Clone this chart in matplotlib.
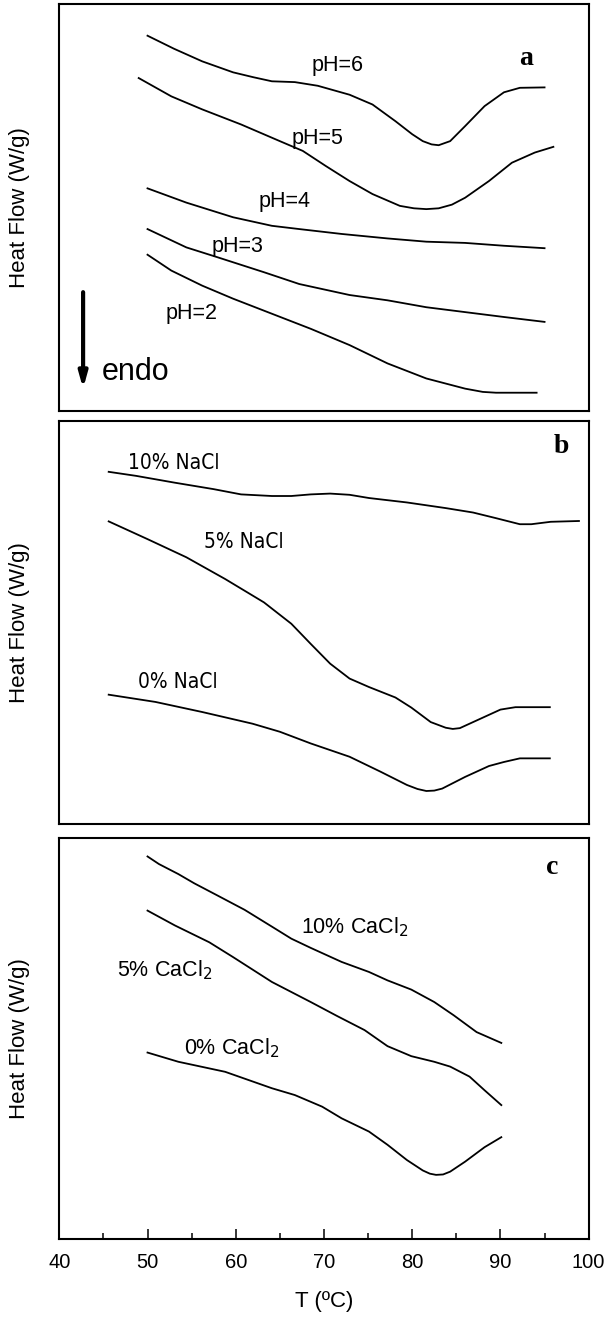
import matplotlib
matplotlib.use("Agg")
import matplotlib.pyplot as plt
from matplotlib.ticker import MultipleLocator
from matplotlib import font_manager as fm

plt.rcParams['font.family'] = ['Liberation Sans', 'DejaVu Sans']

# ---------------- data (T in degC, heat flow in arbitrary units) ----------------
# panel a: pH series
ph6_T = [50.0, 53.0, 56.2, 59.7, 62.0, 64.1, 66.7, 69.3, 72.9, 75.5, 78.1, 80.0, 81.2, 82.2, 83.0, 84.3, 86.0, 88.2, 90.4, 92.2, 95.0]
ph6_H = [92.2, 89.0, 85.9, 83.2, 82.0, 81.0, 80.8, 79.9, 77.7, 75.3, 71.2, 68.0, 66.3, 65.5, 65.3, 66.3, 70.0, 74.9, 78.3, 79.4, 79.5]
ph5_T = [49.0, 52.7, 56.2, 60.6, 65.0, 67.6, 70.2, 72.9, 75.5, 78.6, 80.2, 81.6, 83.0, 84.5, 86.0, 88.7, 91.3, 93.9, 96.0]
ph5_H = [81.8, 77.3, 74.1, 70.4, 66.3, 63.9, 60.2, 56.5, 53.3, 50.4, 49.8, 49.6, 49.8, 50.7, 52.4, 56.5, 61.0, 63.5, 64.9]
ph4_T = [50.0, 54.4, 59.7, 64.1, 67.2, 72.0, 77.2, 81.6, 86.0, 90.4, 95.0]
ph4_H = [54.7, 51.2, 47.6, 45.5, 44.7, 43.5, 42.4, 41.6, 41.3, 40.6, 40.0]
ph3_T = [50.0, 54.4, 57.9, 63.2, 67.2, 72.9, 77.2, 81.6, 86.0, 90.4, 95.0]
ph3_H = [44.7, 40.2, 37.8, 34.1, 31.2, 28.5, 27.2, 25.5, 24.3, 23.1, 21.9]
ph2_T = [50.0, 52.7, 56.2, 59.7, 64.1, 68.5, 72.9, 77.2, 81.6, 86.0, 88.0, 89.5, 94.1]
ph2_H = [38.4, 34.5, 30.8, 27.6, 23.9, 20.2, 16.2, 11.7, 8.0, 5.5, 4.7, 4.5, 4.5]

# panel b: NaCl series
nacl10_T = [45.6, 48.7, 53.1, 57.5, 60.6, 64.1, 66.3, 68.5, 70.7, 72.9, 75.1, 79.4, 83.8, 86.9, 89.5, 92.2, 93.5, 95.7, 98.9]
nacl10_H = [87.4, 86.4, 84.7, 83.1, 81.8, 81.4, 81.4, 81.8, 82.0, 81.7, 80.9, 79.8, 78.4, 77.3, 75.9, 74.4, 74.4, 75.0, 75.2]
nacl5_T = [45.6, 50.0, 54.4, 58.8, 63.2, 66.3, 68.5, 70.7, 72.9, 75.1, 78.1, 79.9, 82.1, 83.8, 84.6, 85.4, 87.3, 90.0, 91.7, 95.6]
nacl5_H = [75.1, 70.7, 66.2, 60.8, 55.0, 49.7, 44.7, 39.8, 36.1, 34.0, 31.4, 28.9, 25.3, 23.9, 23.6, 23.8, 25.7, 28.4, 29.0, 29.0]
nacl0_T = [45.6, 50.9, 56.2, 61.9, 65.0, 68.5, 72.9, 76.4, 79.4, 80.6, 81.6, 82.5, 83.4, 86.0, 88.7, 90.4, 92.2, 95.6]
nacl0_H = [32.1, 30.3, 27.8, 24.9, 22.9, 20.0, 16.7, 13.0, 9.7, 8.7, 8.2, 8.3, 8.8, 11.7, 14.4, 15.4, 16.3, 16.3]

# panel c: CaCl2 series
cacl10_T = [50.0, 51.3, 53.5, 55.3, 57.9, 61.0, 64.1, 66.3, 68.5, 72.0, 75.1, 77.2, 79.9, 82.5, 84.7, 87.3, 90.1]
cacl10_H = [95.4, 93.5, 91.0, 88.7, 85.7, 82.1, 77.9, 74.9, 72.6, 69.1, 66.6, 64.5, 62.2, 59.1, 55.8, 51.6, 48.9]
cacl5_T = [50.0, 53.1, 57.0, 59.7, 64.1, 68.5, 71.5, 74.6, 77.2, 79.9, 82.5, 84.3, 86.5, 88.2, 90.1]
cacl5_H = [81.9, 78.2, 74.0, 70.3, 64.1, 59.1, 55.6, 52.1, 48.1, 45.6, 44.2, 43.0, 40.5, 37.1, 33.4]
cacl0_T = [50.0, 53.5, 58.8, 64.1, 66.7, 69.8, 72.0, 75.1, 77.2, 79.4, 81.2, 82.0, 82.7, 83.5, 84.3, 86.0, 88.2, 90.1]
cacl0_H = [46.5, 44.2, 41.7, 37.6, 35.9, 33.0, 30.1, 26.8, 23.5, 19.7, 17.1, 16.3, 16.0, 16.1, 16.8, 19.3, 22.9, 25.4]

xticks = [40, 50, 60, 70, 80, 90, 100]
ylabel_text = "Heat Flow (W/g)"
xlabel_text = "T (\u00baC)"

# ---------------- find a narrow font for the NaCl labels ----------------
narrow_prop = None
cands = []
for f in fm.fontManager.ttflist:
    nm = f.name
    st = str(f.stretch)
    if f.style != 'normal' or f.weight not in (400, 'normal', 'regular'):
        continue
    score = None
    if 'Liberation Sans Narrow' in nm:
        score = 0
    elif 'Arial Narrow' in nm:
        score = 1
    elif ('Narrow' in nm or 'Condensed' in nm or 'condensed' in st) and 'Sans' in nm:
        score = 2
    elif 'Narrow' in nm or 'Condensed' in nm or 'condensed' in st:
        score = 3
    if score is not None:
        cands.append((score, f.fname))
if cands:
    cands.sort()
    narrow_prop = fm.FontProperties(fname=cands[0][1], size=15)
    narrow_score = cands[0][0]
else:
    narrow_prop = fm.FontProperties(family='Liberation Sans', size=13)
    narrow_score = 9

# ---------------- figure ----------------
fig = plt.figure(figsize=(6.08, 13.17), dpi=100)
left, width = 0.0975, 0.8707
ax_a = fig.add_axes([left, 0.6879, width, 0.3091])
ax_b = fig.add_axes([left, 0.3743, width, 0.3060])
ax_c = fig.add_axes([left, 0.0592, width, 0.3045])

lw = 1.3
for ax in (ax_a, ax_b, ax_c):
    ax.set_xlim(40, 100)
    ax.set_ylim(0, 100)
    ax.set_yticks([])
    for s in ax.spines.values():
        s.set_linewidth(1.5)
    ax.set_ylabel(ylabel_text, fontsize=16, va='center')
    ax.yaxis.set_label_coords(-0.076, 0.5)

for ax in (ax_a, ax_b):
    ax.set_xticks([])

# panel a
for T, H in [(ph6_T, ph6_H), (ph5_T, ph5_H), (ph4_T, ph4_H), (ph3_T, ph3_H), (ph2_T, ph2_H)]:
    ax_a.plot(T, H, color='black', lw=lw, solid_joinstyle='round')
lab_fs = 15.5
ax_a.text(71.5, 85.0, "pH=6", fontsize=lab_fs, ha='center', va='center')
ax_a.text(69.3, 67.0, "pH=5", fontsize=lab_fs, ha='center', va='center')
ax_a.text(65.5, 51.5, "pH=4", fontsize=lab_fs, ha='center', va='center')
ax_a.text(60.2, 40.5, "pH=3", fontsize=lab_fs, ha='center', va='center')
ax_a.text(55.0, 24.0, "pH=2", fontsize=lab_fs, ha='center', va='center')
ax_a.text(92.9, 86.5, "a", fontsize=20, fontweight='bold', family='Liberation Serif',
          ha='center', va='center')
ax_a.annotate("", xy=(42.7, 5.5), xytext=(42.7, 29.2),
              arrowprops=dict(arrowstyle='-|>,head_width=0.25,head_length=0.9',
                              lw=3, color='black', shrinkA=0, shrinkB=0))
ax_a.text(44.8, 9.6, "endo", fontsize=22, ha='left', va='center')

# panel b
for T, H in [(nacl10_T, nacl10_H), (nacl5_T, nacl5_H), (nacl0_T, nacl0_H)]:
    ax_b.plot(T, H, color='black', lw=lw, solid_joinstyle='round')
ax_b.text(53.0, 89.7, "10% NaCl", fontproperties=narrow_prop, ha='center', va='center')
ax_b.text(60.9, 70.1, "5% NaCl", fontproperties=narrow_prop, ha='center', va='center')
ax_b.text(53.4, 35.2, "0% NaCl", fontproperties=narrow_prop, ha='center', va='center')
ax_b.text(96.9, 93.6, "b", fontsize=20, fontweight='bold', family='Liberation Serif',
          ha='center', va='center')

# panel c
for T, H in [(cacl10_T, cacl10_H), (cacl5_T, cacl5_H), (cacl0_T, cacl0_H)]:
    ax_c.plot(T, H, color='black', lw=lw, solid_joinstyle='round')
ax_c.text(73.5, 77.8, "10% CaCl$_2$", fontsize=lab_fs, ha='center', va='center')
ax_c.text(51.9, 67.0, "5% CaCl$_2$", fontsize=lab_fs, ha='center', va='center')
ax_c.text(59.5, 47.5, "0% CaCl$_2$", fontsize=lab_fs, ha='center', va='center')
ax_c.text(95.9, 92.7, "c", fontsize=20, fontweight='bold', family='Liberation Serif',
          ha='center', va='center')

ax_c.set_xticks(xticks)
ax_c.xaxis.set_minor_locator(MultipleLocator(5))
ax_c.tick_params(axis='x', which='major', direction='in', length=7.5, width=1.1,
                 labelsize=14.5, pad=10)
ax_c.tick_params(axis='x', which='minor', direction='in', length=4.3, width=1.1)
ax_c.set_xlabel(xlabel_text, fontsize=16)
ax_c.xaxis.set_label_coords(0.5, -0.157)
ax_c.xaxis.label.set_va('center')

fig.savefig("out.png", dpi=100)
